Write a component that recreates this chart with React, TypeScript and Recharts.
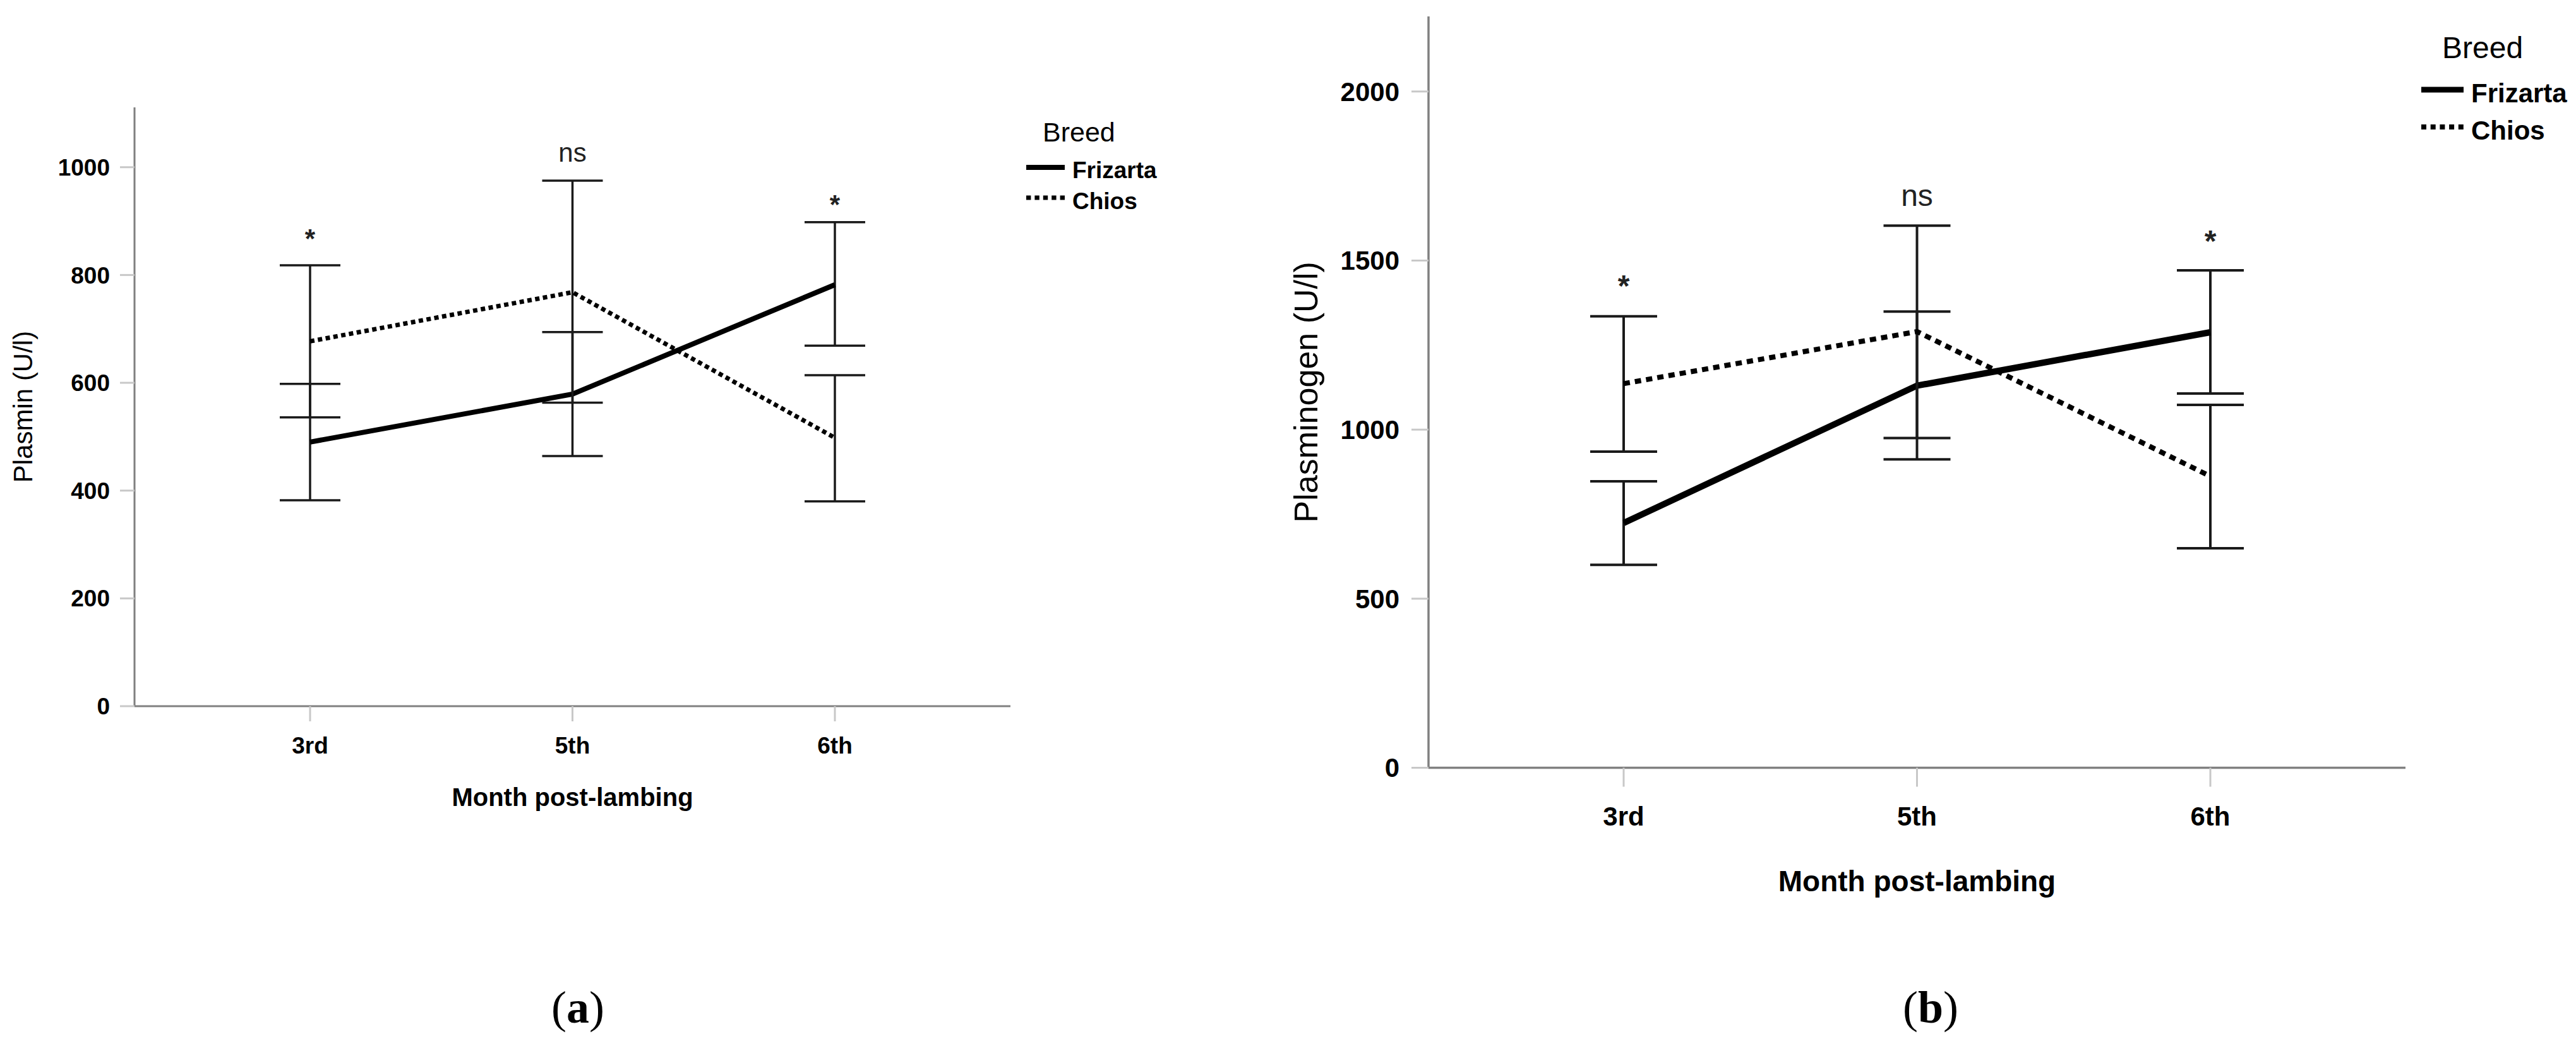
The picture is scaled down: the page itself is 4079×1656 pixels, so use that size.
import { LineChart, Line, XAxis, YAxis, ErrorBar, LabelList, Legend } from 'recharts'

const FONT = '"Liberation Sans", Arial, sans-serif'
const SERIF = '"Liberation Serif", "Times New Roman", serif'

const months = ['3rd', '5th', '6th']
const sigMarks = ['*', 'ns', '*']

// (a) Plasmin, U/l: means with error bar ends
const plasminFrizarta = [490, 579, 782]
const plasminFrizartaLow = [382, 464, 669]
const plasminFrizartaHigh = [598, 694, 898]
const plasminChios = [677, 768, 498]
const plasminChiosLow = [536, 563, 380]
const plasminChiosHigh = [818, 975, 614]
const plasminSigY = [878, 1023, 942]
const plasminTicks = [0, 200, 400, 600, 800, 1000]

// (b) Plasminogen, U/l
const plasminogenFrizarta = [724, 1130, 1288]
const plasminogenFrizartaLow = [600, 912, 1107]
const plasminogenFrizartaHigh = [847, 1349, 1471]
const plasminogenChios = [1136, 1290, 862]
const plasminogenChiosLow = [935, 975, 649]
const plasminogenChiosHigh = [1335, 1603, 1073]
const plasminogenSigY = [1445, 1686, 1577]
const plasminogenTicks = [0, 500, 1000, 1500, 2000]

function buildRows(fri: number[], friLow: number[], friHigh: number[], chi: number[], chiLow: number[], chiHigh: number[], sigY: number[]) {
  return months.map((month, i) => ({
    month,
    frizarta: fri[i],
    frizartaErr: [fri[i] - friLow[i], friHigh[i] - fri[i]],
    chios: chi[i],
    chiosErr: [chi[i] - chiLow[i], chiHigh[i] - chi[i]],
    sig: sigMarks[i],
    sigY: sigY[i],
  }))
}

interface PanelStyle {
  left: number
  width: number
  height: number
  margin: { top: number; right: number; bottom: number; left: number }
  pad: number
  domainMax: number
  ticks: number[]
  yLabel: string
  tickFont: number
  yTick: [number, number]
  xTick: [number, number]
  xTitleFont: number
  xTitleDy: number
  yTitleFont: number
  yTitleDx: number
  axisWidth: number
  solidWidth: number
  dotWidth: number
  dash: string
  capHalf: number
  barWidth: number
  sigFont: number
  legend: {
    left: number
    top: number
    titleX: number
    titleY: number
    titleFont: number
    sample: number
    textX: number
    rows: [number, number][]
    font: number
    dash: string
    solidWidth: number
    dotWidth: number
  }
}

function BreedLegend({ s }: { s: PanelStyle['legend'] }) {
  return (
    <svg width={240} height={210} style={{ display: 'block', overflow: 'visible' }}>
      <text x={s.titleX} y={s.titleY} fontFamily={FONT} fontSize={s.titleFont} fill="#000">Breed</text>
      <line x1={0} x2={s.sample} y1={s.rows[0][0]} y2={s.rows[0][0]} stroke="#000" strokeWidth={s.solidWidth} />
      <text x={s.textX} y={s.rows[0][1]} fontFamily={FONT} fontWeight={700} fontSize={s.font} fill="#000">Frizarta</text>
      <line x1={0} x2={s.sample} y1={s.rows[1][0]} y2={s.rows[1][0]} stroke="#000" strokeWidth={s.dotWidth} strokeDasharray={s.dash} />
      <text x={s.textX} y={s.rows[1][1]} fontFamily={FONT} fontWeight={700} fontSize={s.font} fill="#000">Chios</text>
    </svg>
  )
}

function Panel({ rows, st }: { rows: ReturnType<typeof buildRows>; st: PanelStyle }) {
  const sigLabel = (p: any) => {
    const v = String(p.value)
    const dy = v === '*' ? 0.56 * st.sigFont : 0.27 * st.sigFont
    return (
      <text x={p.x} y={p.y + dy} textAnchor="middle" fontFamily={FONT} fontSize={st.sigFont} fontWeight={v === '*' ? 700 : 400} fill="#222">
        {v}
      </text>
    )
  }
  const xTitle = (p: any) => {
    const vb = p.viewBox
    return (
      <text x={vb.x + vb.width / 2} y={vb.y + st.xTitleDy} textAnchor="middle" fontFamily={FONT} fontWeight={700} fontSize={st.xTitleFont} fill="#000">
        Month post-lambing
      </text>
    )
  }
  const yTitle = (p: any) => {
    const vb = p.viewBox
    const cx = vb.x + vb.width - st.yTitleDx
    const cy = vb.y + vb.height / 2
    return (
      <text x={cx} y={cy} dy="0.36em" textAnchor="middle" transform={`rotate(-90 ${cx} ${cy})`} fontFamily={FONT} fontSize={st.yTitleFont} fill="#000">
        {st.yLabel}
      </text>
    )
  }
  const tickStyle = { fill: '#000', fontSize: st.tickFont, fontWeight: 700, fontFamily: FONT }
  return (
    <div style={{ position: 'absolute', left: st.left, top: 0 }}>
      <LineChart width={st.width} height={st.height} data={rows} margin={st.margin}>
        <XAxis
          dataKey="month"
          padding={{ left: st.pad, right: st.pad }}
          height={200}
          tickSize={st.xTick[0]}
          tickMargin={st.xTick[1]}
          tick={tickStyle}
          tickLine={{ stroke: '#c8c8c8', strokeWidth: 3 }}
          axisLine={{ stroke: '#808080', strokeWidth: st.axisWidth }}
          label={{ content: xTitle }}
        />
        <YAxis
          type="number"
          domain={[0, st.domainMax]}
          ticks={st.ticks}
          width={100}
          tickSize={st.yTick[0]}
          tickMargin={st.yTick[1]}
          tick={tickStyle}
          tickLine={{ stroke: '#c8c8c8', strokeWidth: 3 }}
          axisLine={{ stroke: '#808080', strokeWidth: st.axisWidth }}
          label={{ content: yTitle }}
        />
        <Line dataKey="frizarta" stroke="#000" strokeWidth={st.solidWidth} dot={false} activeDot={false} isAnimationActive={false}>
          <ErrorBar dataKey="frizartaErr" direction="y" width={st.capHalf} stroke="#1a1a1a" strokeWidth={st.barWidth} />
        </Line>
        <Line dataKey="chios" stroke="#000" strokeWidth={st.dotWidth} strokeDasharray={st.dash} dot={false} activeDot={false} isAnimationActive={false}>
          <ErrorBar dataKey="chiosErr" direction="y" width={st.capHalf} stroke="#1a1a1a" strokeWidth={st.barWidth} />
        </Line>
        <Line dataKey="sigY" stroke="none" dot={false} activeDot={false} legendType="none" isAnimationActive={false}>
          <LabelList dataKey="sig" content={sigLabel} />
        </Line>
        <Legend
          layout="vertical"
          align="center"
          verticalAlign="middle"
          content={() => <BreedLegend s={st.legend} />}
          wrapperStyle={{ left: st.legend.left, top: st.legend.top, width: 240, height: 210 }}
        />
      </LineChart>
    </div>
  )
}

const plasminRows = buildRows(plasminFrizarta, plasminFrizartaLow, plasminFrizartaHigh, plasminChios, plasminChiosLow, plasminChiosHigh, plasminSigY)
const plasminogenRows = buildRows(plasminogenFrizarta, plasminogenFrizartaLow, plasminogenFrizartaHigh, plasminogenChios, plasminogenChiosLow, plasminogenChiosHigh, plasminogenSigY)

const styleA: PanelStyle = {
  left: 0,
  width: 2039,
  height: 1656,
  margin: { top: 170, right: 439, bottom: 338, left: 113 },
  pad: 278,
  domainMax: 1111,
  ticks: plasminTicks,
  yLabel: 'Plasmin (U/l)',
  tickFont: 37,
  yTick: [23, 16],
  xTick: [24, 25],
  xTitleFont: 40,
  xTitleDy: 158,
  yTitleFont: 42,
  yTitleDx: 177,
  axisWidth: 3,
  solidWidth: 8,
  dotWidth: 7,
  dash: '7 5.5',
  capHalf: 48,
  barWidth: 3.5,
  sigFont: 42,
  legend: {
    left: 1625,
    top: 170,
    titleX: 26,
    titleY: 54,
    titleFont: 43,
    sample: 61,
    textX: 73,
    rows: [[95, 112], [143, 161]],
    font: 37,
    dash: '7.4 6',
    solidWidth: 8,
    dotWidth: 7,
  },
}

const styleB: PanelStyle = {
  left: 2039,
  width: 2040,
  height: 1656,
  margin: { top: 26, right: 270, bottom: 240.5, left: 123 },
  pad: 309,
  domainMax: 2222,
  ticks: plasminogenTicks,
  yLabel: 'Plasminogen (U/l)',
  tickFont: 42,
  yTick: [27, 19],
  xTick: [30, 32],
  xTitleFont: 46,
  xTitleDy: 195,
  yTitleFont: 52,
  yTitleDx: 195,
  axisWidth: 3.5,
  solidWidth: 10,
  dotWidth: 8,
  dash: '10 8',
  capHalf: 53,
  barWidth: 4,
  sigFont: 48,
  legend: {
    left: 1795,
    top: 26,
    titleX: 33,
    titleY: 66,
    titleFont: 48,
    sample: 67,
    textX: 79,
    rows: [[116, 136], [175, 195]],
    font: 42,
    dash: '8 6.7',
    solidWidth: 9,
    dotWidth: 8,
  },
}

export default function App() {
  return (
    <div style={{ position: 'relative', width: 4079, height: 1656, background: '#fff', overflow: 'hidden' }}>
      <style>{'body{margin:0}'}</style>
      <Panel rows={plasminRows} st={styleA} />
      <Panel rows={plasminogenRows} st={styleB} />
      <svg width={4079} height={1656} style={{ position: 'absolute', left: 0, top: 0, pointerEvents: 'none' }}>
        <text x={915} y={1619} textAnchor="middle" fontFamily={SERIF} fontSize={72} fill="#000">
          (<tspan fontWeight={700}>a</tspan>)
        </text>
        <text x={3057} y={1619} textAnchor="middle" fontFamily={SERIF} fontSize={72} fill="#000">
          (<tspan fontWeight={700}>b</tspan>)
        </text>
      </svg>
    </div>
  )
}
